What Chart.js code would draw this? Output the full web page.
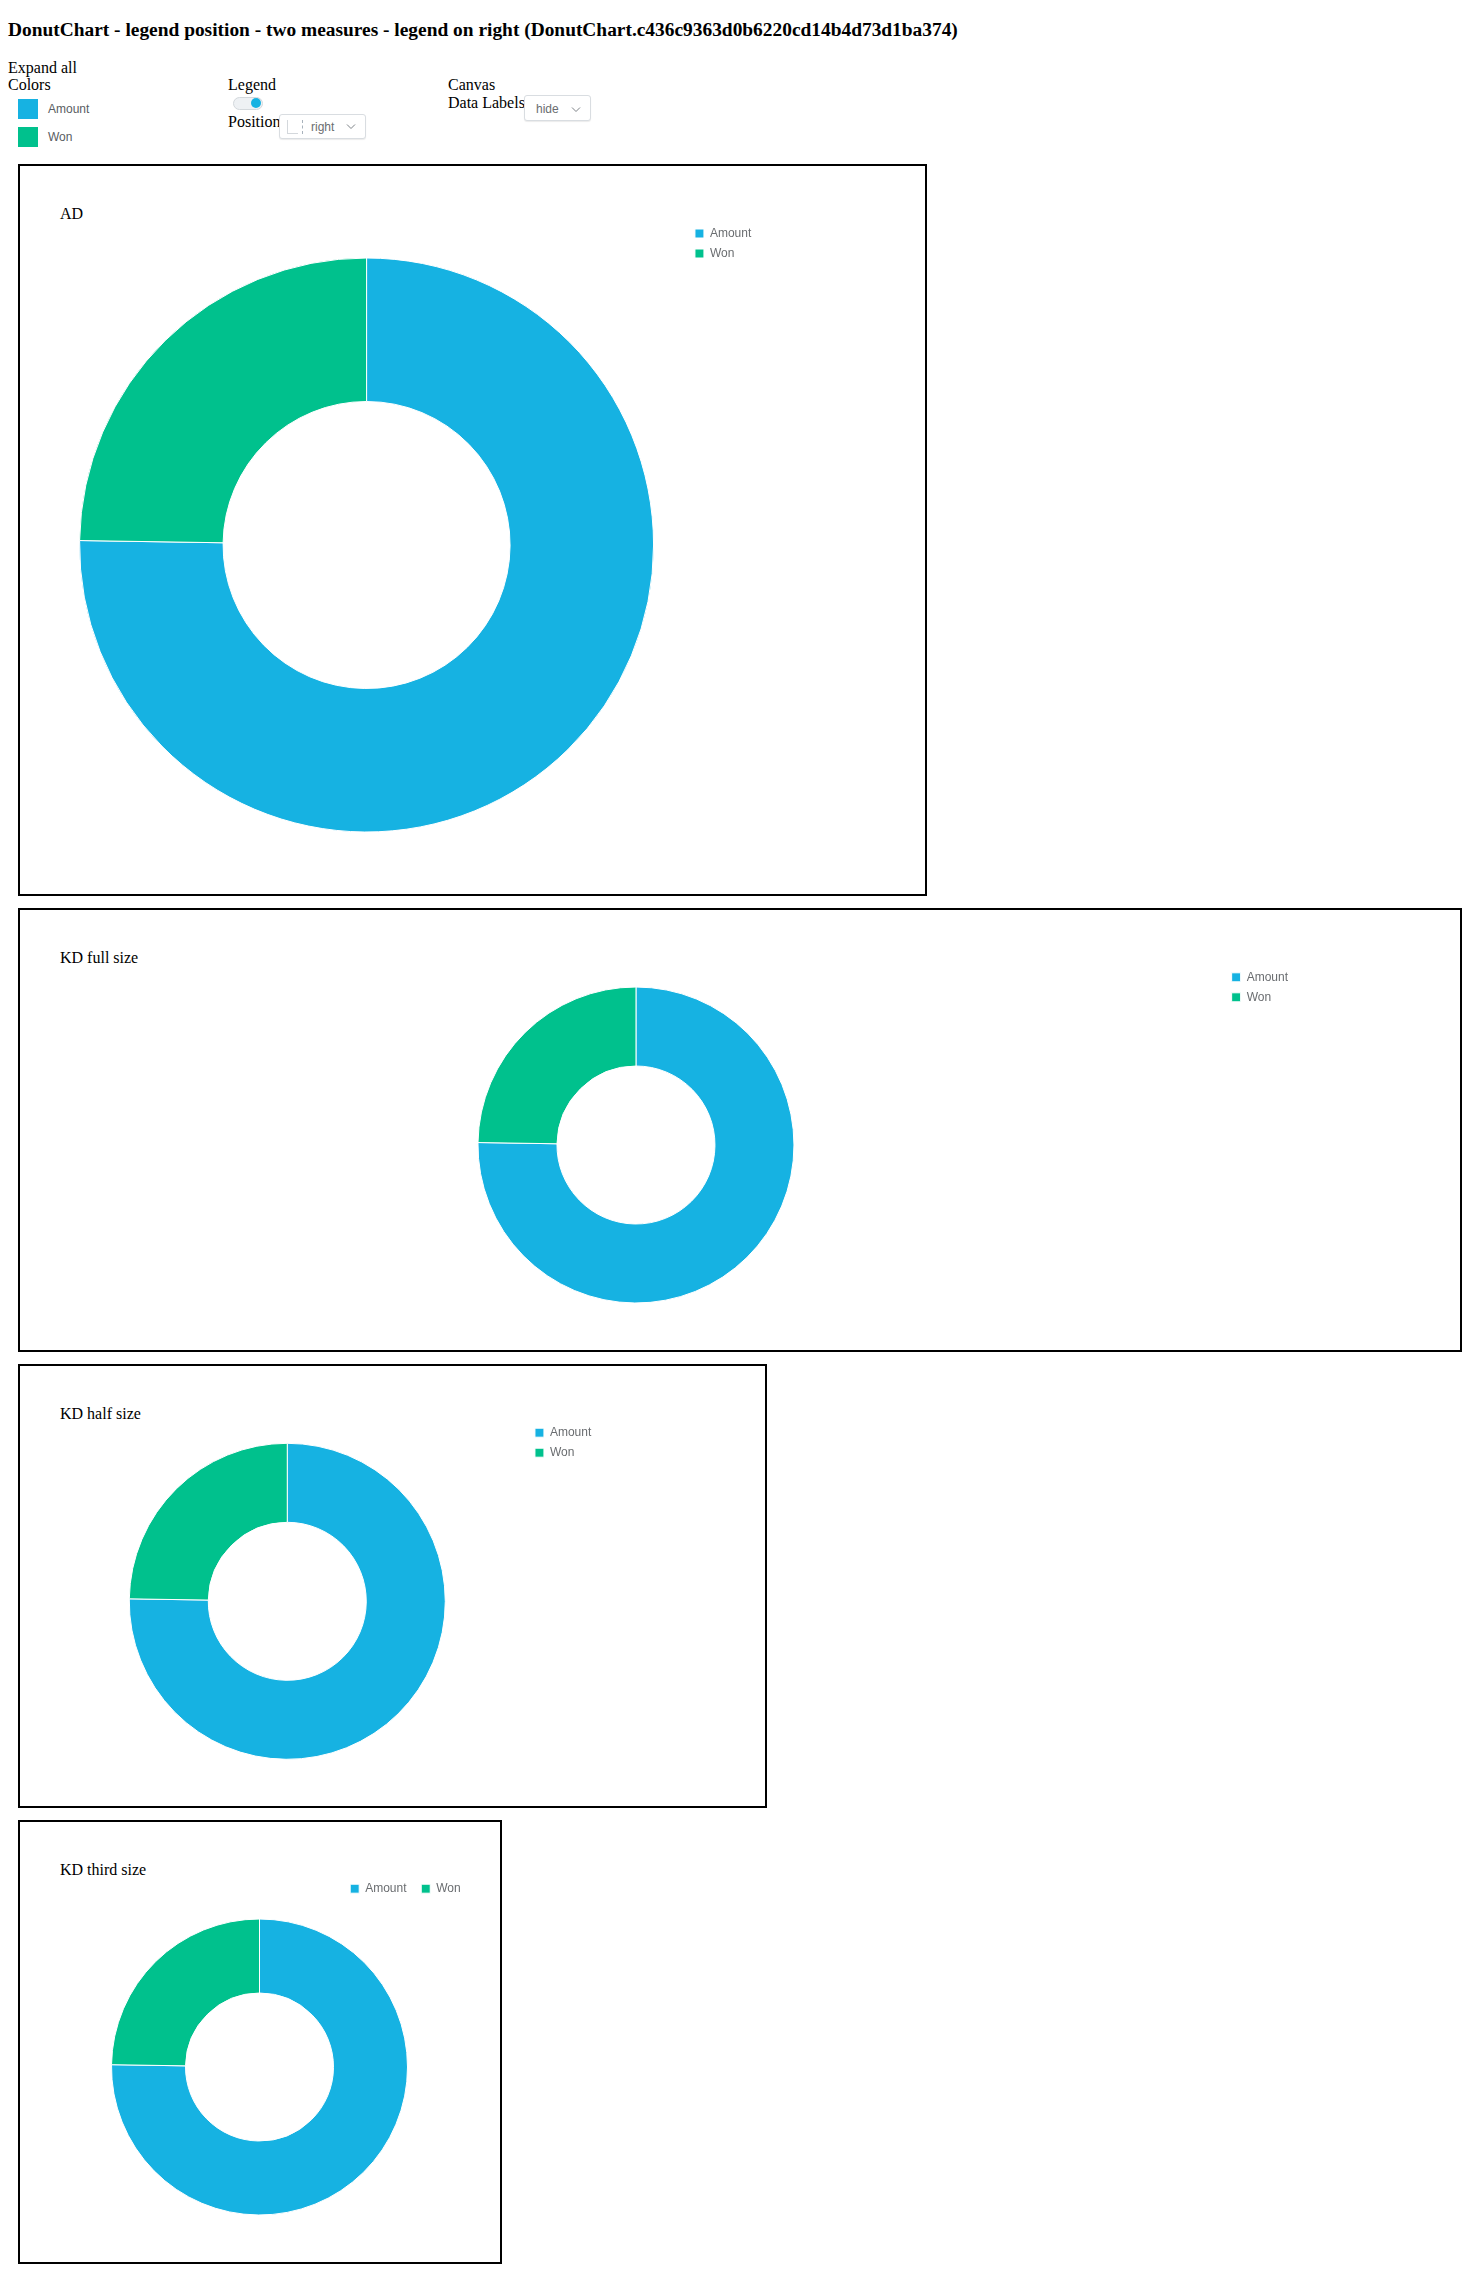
<!DOCTYPE html>
<html>
<head>
<meta charset="utf-8">
<script src="https://cdn.jsdelivr.net/npm/chart.js@4.4.1/dist/chart.umd.min.js"></script>
<style>
  html, body { margin: 0; padding: 0; background: #fff; }
  body { width: 1464px; height: 2275px; position: relative; font-family: 'Liberation Serif', 'Times New Roman', serif; color: #000; }
  .t { position: absolute; white-space: nowrap; line-height: 1; font-size: 16px; }
  .s { position: absolute; white-space: nowrap; line-height: 1; font-size: 12px; font-family: 'Liberation Sans', Arial, sans-serif; }
  .box { position: absolute; box-sizing: border-box; border: 2px solid #000; left: 18px; }
  canvas { position: absolute; }
  .dd { position: absolute; box-sizing: border-box; border: 1px solid #d9dde1; border-radius: 3px; background: #fff; box-shadow: 0 1px 1px rgba(0,0,0,0.08); }
</style>
</head>
<body>
<div class="t" style="left:8px; top:19.75px; font-size:19.4px; font-weight:bold;">DonutChart - legend position - two measures - legend on right (DonutChart.c436c9363d0b6220cd14b4d73d1ba374)</div>

<div class="t" style="left:8px; top:59.9px;">Expand all</div>
<div class="t" style="left:8px; top:77.3px;">Colors</div>
<div id="sw0" style="position:absolute; left:18px; top:99px; width:20px; height:20px;"></div>
<div id="sw1" style="position:absolute; left:18px; top:127px; width:20px; height:20px;"></div>
<div class="s" id="swl0" style="left:48px; top:103px; color:#595d62;"></div>
<div class="s" id="swl1" style="left:48px; top:131px; color:#595d62;"></div>

<div class="t" style="left:228px; top:77.3px;">Legend</div>
<div style="position:absolute; left:233px; top:96.5px; width:30px; height:13px; box-sizing:border-box; border:1px solid #d3d8dc; border-radius:7px; background:#eef1f4;"></div>
<div id="knob" style="position:absolute; left:251.3px; top:98px; width:10px; height:10px; border-radius:50%;"></div>
<div class="t" style="left:228px; top:113.9px;">Position</div>
<div class="dd" style="left:279.3px; top:113.7px; width:87px; height:25.3px;"></div>
<div style="position:absolute; left:287px; top:120px; width:10px; height:13px; border-left:1px solid #d4d8dc; border-bottom:1px solid #d4d8dc;"></div>
<div style="position:absolute; left:302px; top:120px; width:0; height:14px; border-left:1px dashed #a8b2bc;"></div>
<div class="s" style="left:311px; top:120.8px; color:#6a6d70;">right</div>
<svg style="position:absolute; left:346px; top:123px;" width="10" height="8"><polyline points="1,1.5 5,5.5 9,1.5" fill="none" stroke="#7d8287" stroke-width="1"/></svg>

<div class="t" style="left:448px; top:77.3px;">Canvas</div>
<div class="t" style="left:448px; top:94.9px;">Data Labels</div>
<div class="dd" style="left:524.3px; top:95px; width:67px; height:26px;"></div>
<div class="s" style="left:536px; top:103.1px; color:#6a6d70;">hide</div>
<svg style="position:absolute; left:571px; top:105.5px;" width="10" height="8"><polyline points="1,1.5 5,5.5 9,1.5" fill="none" stroke="#7d8287" stroke-width="1"/></svg>

<div class="box" style="top:164px; width:909px; height:732px;"></div>
<div class="box" style="top:908px; width:1444px; height:444px;"></div>
<div class="box" style="top:1364px; width:749px; height:444px;"></div>
<div class="box" style="top:1820px; width:484px; height:444px;"></div>

<div class="t" id="title0" style="left:60px; top:205.6px;"></div>
<div class="t" id="title1" style="left:60px; top:949.9px;"></div>
<div class="t" id="title2" style="left:60px; top:1405.6px;"></div>
<div class="t" id="title3" style="left:60px; top:1861.6px;"></div>

<canvas id="c0" width="905" height="728" style="left:20px; top:166px;"></canvas>
<canvas id="c1" width="1440" height="440" style="left:20px; top:910px;"></canvas>
<canvas id="c2" width="745" height="440" style="left:20px; top:1366px;"></canvas>
<canvas id="c3" width="480" height="440" style="left:20px; top:1822px;"></canvas>

<script>
// ---- data ----
const categories = ['Amount', 'Won'];
const measureValues = [3040, 1000];
const chartTitles = ['AD', 'KD full size', 'KD half size', 'KD third size'];

// ---- styles ----
const seriesColors = ['#16b2e2', '#00c18d'];
const legendTextColor = '#6a6d70';

document.getElementById('sw0').style.background = seriesColors[0];
document.getElementById('sw1').style.background = seriesColors[1];
document.getElementById('swl0').textContent = categories[0];
document.getElementById('swl1').textContent = categories[1];
document.getElementById('knob').style.background = seriesColors[0];
chartTitles.forEach((t, i) => { document.getElementById('title' + i).textContent = t; });

const layouts = [
  { id: 'c0', radius: 287, legendPos: 'right', align: 'start', lp: 8,    padding: { left: 26.2, right: 163.7, top: 53.5, bottom: 23.5 } },
  { id: 'c1', radius: 158, legendPos: 'right', align: 'start', lp: 8,    padding: { left: 28.3, right: 162.0, top: 53.3, bottom: 23.3 } },
  { id: 'c2', radius: 158, legendPos: 'right', align: 'start', lp: 8,    padding: { left: 27.6, right: 163.7, top: 52.7, bottom: 22.1 } },
  { id: 'c3', radius: 148, legendPos: 'top',   align: 'end',   lp: 14.7, padding: { left: 23.6, right: 24.6, top: 46.0, bottom: 32.7 } }
];

layouts.forEach(L => {
  new Chart(document.getElementById(L.id), {
    type: 'doughnut',
    data: {
      labels: categories,
      datasets: [{
        data: measureValues,
        backgroundColor: seriesColors,
        borderColor: '#ffffff',
        borderWidth: 1,
        hoverOffset: 0
      }]
    },
    options: {
      responsive: false,
      devicePixelRatio: 1,
      animation: false,
      events: [],
      cutout: '50%',
      radius: L.radius,
      layout: { padding: L.padding },
      plugins: {
        tooltip: { enabled: false },
        title: { display: false },
        legend: {
          display: true,
          position: L.legendPos,
          align: L.align,
          labels: {
            boxWidth: 9,
            boxHeight: 9,
            padding: L.lp,
            color: legendTextColor,
            font: { family: "'Liberation Sans', Arial, sans-serif", size: 12 }
          }
        }
      }
    }
  });
});
</script>
</body>
</html>
